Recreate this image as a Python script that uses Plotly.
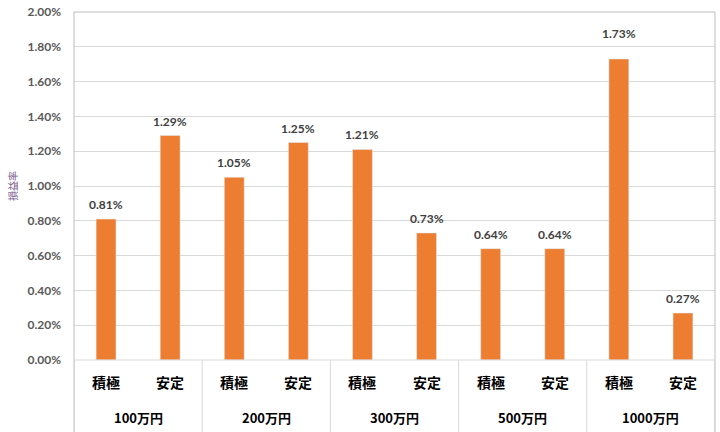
import plotly.graph_objects as go

groups = ["100万円", "200万円", "300万円", "500万円", "1000万円"]
subs = ["積極", "安定"]
values = [0.81, 1.29, 1.05, 1.25, 1.21, 0.73, 0.64, 0.64, 1.73, 0.27]
y_ticks = [0.0, 0.2, 0.4, 0.6, 0.8, 1.0, 1.2, 1.4, 1.6, 1.8, 2.0]

n = len(values)
xs = list(range(n))
sub_labels = [subs[i % 2] for i in range(n)]

FONT = "Lato, 'Noto Sans CJK JP', sans-serif"
CJK = "'Noto Sans CJK JP', sans-serif"

fig = go.Figure()
fig.add_trace(go.Bar(x=xs, y=values, marker_color="#ED7D31", width=0.31,
                     hoverinfo="skip"))

annotations = []
for x, v in zip(xs, values):
    # label nudged higher when bar nears the top (as in the reference)
    shift = 16 if v > 1.6 else 5
    annotations.append(dict(x=x, y=v, xref="x", yref="y", text=f"<b>{v:.2f}%</b>",
                            showarrow=False, yanchor="bottom", yshift=shift,
                            font=dict(family=FONT, size=12, color="#404040")))
for gi, g in enumerate(groups):
    annotations.append(dict(x=gi * 2 + 0.5, y=0, xref="x", yref="paper", text=f"<b>{g}</b>",
                            showarrow=False, yanchor="middle", yshift=-57,
                            font=dict(family=CJK, size=13, color="#000000")))
for x, s in zip(xs, sub_labels):
    annotations.append(dict(x=x, y=0, xref="x", yref="paper", text=f"<b>{s}</b>",
                            showarrow=False, yanchor="middle", yshift=-22,
                            font=dict(family=CJK, size=14, color="#000000")))
annotations.append(dict(x=0, y=0.5, xref="paper", yref="paper", xanchor="center",
                        xshift=-62, text="損益率", textangle=-90, showarrow=False,
                        font=dict(family=CJK, size=10, color="#7a5c8f")))

shapes = []
for gi in range(len(groups) + 1):
    shapes.append(dict(type="line", xref="x", yref="paper", x0=gi * 2 - 0.5, x1=gi * 2 - 0.5,
                       y0=0, y1=-0.25, line=dict(color="#d9d9d9", width=1)))
# frame
shapes.append(dict(type="line", xref="paper", yref="paper", x0=0, x1=1, y0=1, y1=1,
                   line=dict(color="#bfbfbf", width=1)))
shapes.append(dict(type="line", xref="paper", yref="paper", x0=1, x1=1, y0=1, y1=-0.25,
                   line=dict(color="#bfbfbf", width=1)))
shapes.append(dict(type="line", xref="paper", yref="paper", x0=0, x1=0, y0=1, y1=-0.25,
                   line=dict(color="#bfbfbf", width=1)))
shapes.append(dict(type="line", xref="paper", yref="paper", x0=0, x1=1, y0=0, y1=0,
                   line=dict(color="#d9d9d9", width=1)))

fig.update_layout(
    width=720, height=432,
    margin=dict(l=74, r=5, t=12, b=72),
    paper_bgcolor="white", plot_bgcolor="white",
    showlegend=False,
    annotations=annotations,
    shapes=shapes,
    xaxis=dict(range=[-0.5, n - 0.5], showticklabels=False, showgrid=False,
               zeroline=False, showline=False, ticks=""),
    yaxis=dict(range=[0, 2.0], tickvals=y_ticks,
               ticktext=[f"<b>{t:.2f}%</b>" for t in y_ticks],
               tickfont=dict(family=FONT, size=12, color="#595959"),
               showgrid=True, gridcolor="#d9d9d9", gridwidth=1,
               zeroline=False, showline=False, ticks="", ticklabelstandoff=12),
)

fig.write_html("out.html")
